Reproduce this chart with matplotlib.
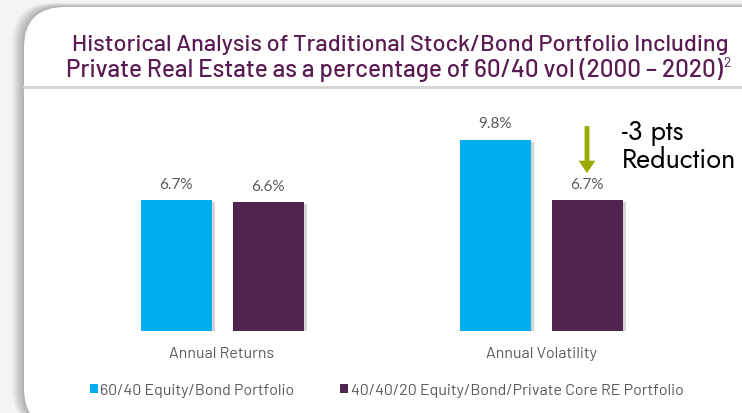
import numpy as np
import matplotlib.pyplot as plt
from matplotlib.patches import FancyBboxPatch, Rectangle
from matplotlib.lines import Line2D
import matplotlib.patheffects as pe

# data
categories = ['Annual Returns', 'Annual Volatility']
series_names = ['60/40 Equity/Bond Portfolio', '40/40/20 Equity/Bond/Private Core RE Portfolio']
values_6040 = [6.7, 9.8]
values_404020 = [6.6, 6.7]
value_labels_6040 = ['6.7%', '9.8%']
value_labels_404020 = ['6.6%', '6.7%']

blue = '#00aeef'
purple = '#4f2550'
title_col = '#5a1a52'
grey_txt = '#595959'
narrow = ['Barlow', 'Barlow Semi Condensed', 'DejaVu Sans']
geo = ['Jost', 'Questrial', 'DejaVu Sans']

W, H = 742, 414
fig = plt.figure(figsize=(W / 100, H / 100), dpi=100)
fig.patch.set_facecolor('#f4f4f4')

def fx(px):
    return px / W

def fy(py):
    return 1 - py / H

# soft shadow on the left/top of the card, then the white card
for k in range(12, 0, -1):
    sh = FancyBboxPatch((fx(24 - k), fy(430)), fx(800), fy(8 - k * 0.35) - fy(430),
                        boxstyle='round,pad=0,rounding_size=0.055', transform=fig.transFigure,
                        facecolor='black', edgecolor='none', alpha=0.022, zorder=0,
                        mutation_aspect=W / H)
    fig.patches.append(sh)
card = FancyBboxPatch((fx(24), fy(430)), fx(800), fy(8) - fy(430),
                      boxstyle='round,pad=0,rounding_size=0.055', transform=fig.transFigure,
                      facecolor='white', edgecolor='none', zorder=1,
                      mutation_aspect=W / H)
fig.patches.append(card)

# separator under the title
fig.add_artist(Line2D([fx(24), 1], [fy(88), fy(88)], transform=fig.transFigure,
                      color='#d4d4d4', lw=2, zorder=2))

# title
fig.text(fx(400), fy(51), 'Historical Analysis of Traditional Stock/Bond Portfolio Including',
         ha='center', va='baseline', fontsize=17, color=title_col, family=narrow,
         weight='medium', zorder=3)
fig.text(fx(394), fy(77), 'Private Real Estate as a percentage of 60/40 vol (2000 \u2013 2020)',
         ha='center', va='baseline', fontsize=17.5, color=title_col, family=narrow,
         weight='medium', zorder=3)
fig.text(fx(723), fy(67), '2', ha='left', va='baseline', fontsize=10, color=title_col,
         family=narrow, zorder=3)

# bars
ax = fig.add_axes([fx(62.5), fy(332), fx(638), fy(98) - fy(332)])
ax.set_zorder(3)
ax.patch.set_alpha(0)
x = np.arange(len(categories))
bw = 71 / 319
off = 46 / 319
shadow = [pe.SimplePatchShadow(offset=(2.5, -1.5), shadow_rgbFace='#888888', alpha=0.35), pe.Normal()]
b1 = ax.bar(x - off, values_6040, bw, color=blue, label=series_names[0])
b2 = ax.bar(x + off, values_404020, bw, color=purple, label=series_names[1])
for b in list(b1) + list(b2):
    b.set_path_effects(shadow)
for xi, v, lab in zip(x - off, values_6040, value_labels_6040):
    ax.text(xi, v + 0.65, lab, ha='center', va='baseline', fontsize=11, color=grey_txt, family='Lato')
for xi, v, lab in zip(x + off, values_404020, value_labels_404020):
    ax.text(xi, v + 0.65, lab, ha='center', va='baseline', fontsize=11, color=grey_txt, family='Lato')
ax.set_xlim(-0.5, 1.5)
ax.set_ylim(0, 12)
ax.axis('off')

# category labels
for xi, c in zip(x, categories):
    ax.text(xi, -1.33, c, ha='center', va='baseline', fontsize=11.5, color=grey_txt, family=narrow)

# arrow and note
ax.annotate('', xy=(1 + off, 7.95), xytext=(1 + off, 10.65),
            arrowprops=dict(arrowstyle='simple,head_width=1.2,head_length=0.9,tail_width=0.35',
                            color='#9aaa00', lw=0))
fig.text(fx(622), fy(140), '-3 pts', ha='left', va='baseline', fontsize=19.5,
         color='black', family=geo, zorder=4)
fig.text(fx(622), fy(168), 'Reduction', ha='left', va='baseline', fontsize=19.5,
         color='black', family=geo, zorder=4)

# legend
fig.patches.append(Rectangle((fx(90), fy(394)), fx(8), fy(385) - fy(394), transform=fig.transFigure,
                             facecolor=blue, edgecolor='none', zorder=3))
fig.text(fx(100), fy(395), series_names[0], ha='left', va='baseline', fontsize=11.5,
         color=grey_txt, family=narrow, zorder=3)
fig.patches.append(Rectangle((fx(340), fy(394)), fx(8), fy(385) - fy(394), transform=fig.transFigure,
                             facecolor=purple, edgecolor='none', zorder=3))
fig.text(fx(351), fy(395), series_names[1], ha='left', va='baseline', fontsize=11.5,
         color=grey_txt, family=narrow, zorder=3)

plt.savefig('out.png', dpi=100)
